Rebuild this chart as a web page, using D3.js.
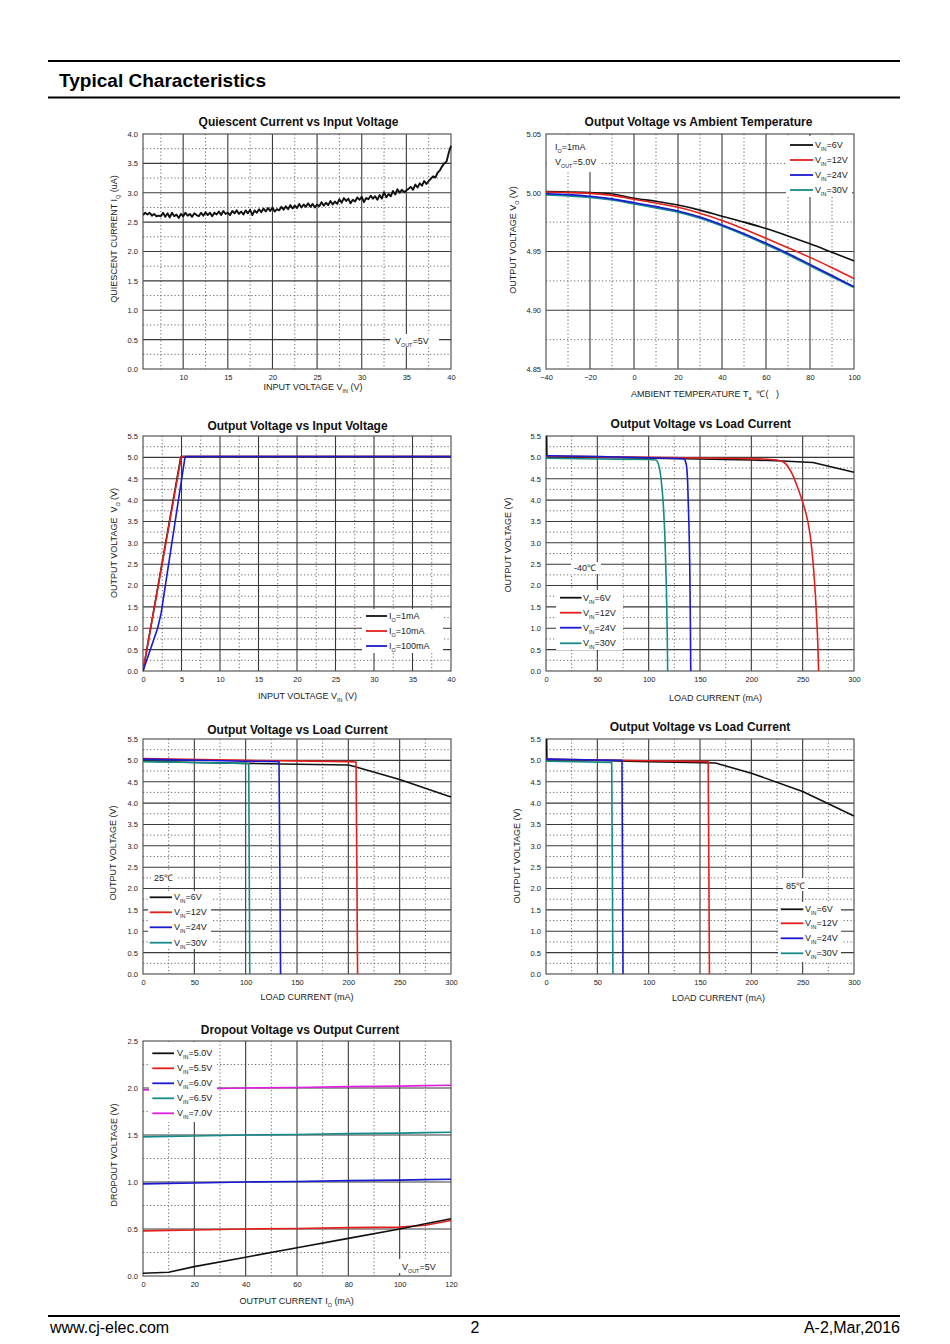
<!DOCTYPE html>
<html><head><meta charset="utf-8">
<script src="https://cdn.jsdelivr.net/npm/d3@7"></script>
<style>body{margin:0;background:#fff}text{white-space:pre}</style>
</head><body>
<svg id="page" width="950" height="1344" xmlns="http://www.w3.org/2000/svg"></svg>
<script>
// ================= DATA =================
// Chart 1: Quiescent current vs input voltage (sampled every 0.25 V from 5.5 V)
const qVinStart = 5.5, qVinStep = 0.25;
const qCurrent = [
  2.62, 2.66,                 // 5.5 - 5.75
  2.63, 2.66, 2.61, 2.64,     // 6
  2.60, 2.61, 2.60, 2.66,     // 7
  2.59, 2.65, 2.58, 2.66,     // 8
  2.60, 2.63, 2.57, 2.64,     // 9
  2.60, 2.66, 2.61, 2.64,     // 10
  2.59, 2.65, 2.62, 2.60,     // 11
  2.66, 2.61, 2.67, 2.62,     // 12
  2.66, 2.60, 2.66, 2.63,     // 13
  2.68, 2.62, 2.69, 2.64,     // 14
  2.66, 2.62, 2.69, 2.65,     // 15
  2.70, 2.64, 2.68, 2.63,     // 16
  2.70, 2.65, 2.71, 2.62,     // 17
  2.70, 2.66, 2.72, 2.67,     // 18
  2.73, 2.68, 2.74, 2.69,     // 19
  2.75, 2.68, 2.72, 2.70,     // 20
  2.76, 2.71, 2.77, 2.72,     // 21
  2.79, 2.73, 2.78, 2.74,     // 22
  2.81, 2.75, 2.80, 2.76,     // 23
  2.82, 2.76, 2.81, 2.75,     // 24
  2.80, 2.77, 2.84, 2.78,     // 25
  2.83, 2.79, 2.86, 2.80,     // 26
  2.85, 2.81, 2.89, 2.83,     // 27
  2.91, 2.86, 2.90, 2.82,     // 28
  2.88, 2.85, 2.92, 2.88,     // 29
  2.93, 2.84, 2.91, 2.89,     // 30
  2.95, 2.90, 2.94, 2.88,     // 31
  2.96, 2.90, 3.01, 2.92,     // 32
  2.98, 2.94, 3.03, 2.97,     // 33
  3.06, 3.00, 3.05, 3.01,     // 34
  3.04, 3.07, 3.10, 3.05,     // 35
  3.14, 3.09, 3.16, 3.12,     // 36
  3.20, 3.15, 3.20, 3.24,     // 37
  3.28, 3.26, 3.34, 3.38,     // 38
  3.45, 3.50, 3.53, 3.68,     // 39
  3.80                        // 40
];
const qTicksX = [10, 15, 20, 25, 30, 35, 40];
const qTicksY = [0, 0.5, 1, 1.5, 2, 2.5, 3, 3.5, 4];

// Chart 2: Output voltage vs ambient temperature
const tempC   = [-40, -30, -20, -10, 0, 10, 20, 30, 40, 50, 60, 70, 80, 90, 100];
const voT_6V  = [5.0011, 5.0007, 5.0002, 4.9990, 4.9953, 4.9928, 4.9895, 4.9852, 4.9800, 4.9750, 4.9695, 4.9632, 4.9565, 4.9493, 4.9420];
const voT_12V = [5.0006, 5.0002, 4.9995, 4.9978, 4.9944, 4.9913, 4.9876, 4.9826, 4.9763, 4.9692, 4.9613, 4.9532, 4.9450, 4.9362, 4.9270];
const voT_24V = [4.9992, 4.9984, 4.9970, 4.9948, 4.9915, 4.9882, 4.9845, 4.9793, 4.9726, 4.9652, 4.9570, 4.9483, 4.9390, 4.9295, 4.9200];
const voT_30V = [4.9983, 4.9975, 4.9962, 4.9940, 4.9907, 4.9873, 4.9836, 4.9784, 4.9718, 4.9643, 4.9560, 4.9473, 4.9380, 4.9287, 4.9195];
const tTicksX = [-40, -20, 0, 20, 40, 60, 80, 100];
const tTicksY = [4.85, 4.90, 4.95, 5.00, 5.05];

// Chart 3: Output voltage vs input voltage
const vin_1mA   = [0, 4.90, 5.05, 40];
const vo_1mA    = [0, 5.00, 5.02, 5.02];
const vin_10mA  = [0, 4.96, 5.15, 40];
const vo_10mA   = [0, 5.00, 5.02, 5.02];
const vin_100mA = [0, 1.90, 2.35, 5.45, 5.60, 40];
const vo_100mA  = [0, 1.00, 1.35, 5.00, 5.02, 5.02];
const vTicksX = [0, 5, 10, 15, 20, 25, 30, 35, 40];
const vTicksY = [0, 0.5, 1, 1.5, 2, 2.5, 3, 3.5, 4, 4.5, 5, 5.5];

// Chart 4: Output voltage vs load current, -40 C
const m40_I6  = [0.6, 0.9, 3, 50, 100, 150, 200, 225, 260, 300];
const m40_V6  = [5.5, 5.04, 5.02, 5.00, 4.98, 4.96, 4.94, 4.92, 4.88, 4.65];
const m40_I12 = [0, 100, 200, 225, 232, 240, 245, 250, 255, 258, 261.5, 263.5, 264.8, 265.5];
const m40_V12 = [5.03, 5.00, 4.97, 4.94, 4.88, 4.60, 4.30, 3.95, 3.50, 3.05, 2.10, 1.30, 0.60, 0];
const m40_I24 = [0, 50, 100, 134, 136.5, 138, 139, 140, 140.6, 141];
const m40_V24 = [5.04, 5.02, 4.99, 4.97, 4.85, 4.40, 3.60, 2.50, 1.20, 0];
const m40_I30 = [0, 50, 100, 107, 110, 112.5, 114.5, 116, 117.2, 118, 118.5];
const m40_V30 = [4.98, 4.96, 4.95, 4.94, 4.80, 4.40, 3.80, 3.00, 2.00, 1.00, 0];

// Chart 5: Output voltage vs load current, 25 C
const p25_I6  = [0, 50, 100, 150, 200, 205, 250, 300];
const p25_V6  = [4.98, 4.95, 4.93, 4.91, 4.89, 4.86, 4.55, 4.14];
const p25_I12 = [0, 100, 200, 207.5, 208.3, 209];
const p25_V12 = [5.04, 5.00, 4.97, 4.96, 2.5, 0];
const p25_I24 = [0, 100, 132.5, 133.3, 134];
const p25_V24 = [5.03, 4.98, 4.97, 2.5, 0];
const p25_I30 = [0, 50, 100, 103, 103.5, 104];
const p25_V30 = [4.97, 4.95, 4.93, 4.92, 2.5, 0];

// Chart 6: Output voltage vs load current, 85 C
const p85_I6  = [0.6, 0.9, 3, 50, 100, 165, 200, 250, 300];
const p85_V6  = [5.5, 5.04, 5.02, 5.00, 4.97, 4.94, 4.70, 4.27, 3.70];
const p85_I12 = [0, 50, 100, 158, 158.6, 159.2];
const p85_V12 = [5.03, 5.01, 4.99, 4.97, 2.5, 0];
const p85_I24 = [0, 50, 74, 74.5, 75];
const p85_V24 = [5.03, 5.01, 5.00, 2.5, 0];
const p85_I30 = [0, 30, 64, 64.6, 65.2];
const p85_V30 = [4.98, 4.97, 4.95, 2.5, 0];
const lTicksX = [0, 50, 100, 150, 200, 250, 300];

// Chart 7: Dropout voltage vs output current
const ioD   = [0, 10, 20, 40, 60, 80, 100, 110, 120];
const dv50  = [0.03, 0.04, 0.10, 0.20, 0.30, 0.40, 0.50, 0.555, 0.61];
const dv55  = [0.48, 0.485, 0.49, 0.50, 0.505, 0.515, 0.52, 0.54, 0.59];
const dv60  = [0.98, 0.985, 0.99, 1.00, 1.005, 1.015, 1.02, 1.025, 1.03];
const dv65  = [1.48, 1.485, 1.49, 1.50, 1.505, 1.515, 1.52, 1.525, 1.53];
const dv70  = [1.98, 1.985, 1.99, 2.00, 2.005, 2.015, 2.02, 2.025, 2.03];
const dTicksX = [0, 20, 40, 60, 80, 100, 120];
const dTicksY = [0, 0.5, 1, 1.5, 2, 2.5];

// ================= DRAWING =================
const COL = {black:'#111111', red:'#e3201c', blue:'#1a1ad2', teal:'#178a8a', magenta:'#e020e0'};
const FONT = "'Liberation Sans', Arial, Helvetica, sans-serif";
const svg = d3.select('#page').attr('font-family', FONT);

function rich(text, parts, size) {
  parts.forEach((p, i) => {
    const t = p[0], sub = p[1];
    const ts = text.append('tspan').text(t);
    if (sub) ts.attr('font-size', size * 0.6).attr('dy', size * 0.32);
    else if (i > 0 && parts[i - 1][1]) ts.attr('dy', -size * 0.32);
  });
}
const zip = (xs, ys) => xs.map((v, i) => [v, ys[i]]);

function gridVals(d0, d1, s) {
  const out = [], tol = s * 1e-3;
  const k0 = Math.ceil(d0 / s - 1e-6), k1 = Math.floor(d1 / s + 1e-6);
  for (let k = k0; k <= k1; k++) {
    const v = +(k * s).toFixed(6);
    if (v > d0 + tol && v < d1 - tol) out.push({v});
  }
  return out;
}

function drawChart(c) {
  const g = svg.append('g');
  const x = d3.scaleLinear().domain(c.xDomain).range([c.left, c.right]);
  const y = d3.scaleLinear().domain(c.yDomain).range([c.bottom, c.top]);

  const gx = gridVals(c.xDomain[0], c.xDomain[1], c.xStep / 2);
  const gy = gridVals(c.yDomain[0], c.yDomain[1], c.yStep / 2);
  gx.forEach(d => d.major = Math.abs(d.v / c.xStep - Math.round(d.v / c.xStep)) < 1e-4);
  gy.forEach(d => d.major = Math.abs(d.v / c.yStep - Math.round(d.v / c.yStep)) < 1e-4);

  const grid = g.append('g');
  grid.selectAll('line.mx').data(gx.filter(d => !d.major)).join('line')
    .attr('x1', d => x(d.v)).attr('x2', d => x(d.v)).attr('y1', c.top).attr('y2', c.bottom)
    .attr('stroke', '#6a6a6a').attr('stroke-width', 1).attr('stroke-dasharray', '1.2,2.3');
  grid.selectAll('line.my').data(gy.filter(d => !d.major)).join('line')
    .attr('y1', d => y(d.v)).attr('y2', d => y(d.v)).attr('x1', c.left).attr('x2', c.right)
    .attr('stroke', '#6a6a6a').attr('stroke-width', 1).attr('stroke-dasharray', '1.2,2.3');
  grid.selectAll('line.Mx').data(gx.filter(d => d.major)).join('line')
    .attr('x1', d => x(d.v)).attr('x2', d => x(d.v)).attr('y1', c.top).attr('y2', c.bottom)
    .attr('stroke', '#3a3a3a').attr('stroke-width', 1.1);
  grid.selectAll('line.My').data(gy.filter(d => d.major)).join('line')
    .attr('y1', d => y(d.v)).attr('y2', d => y(d.v)).attr('x1', c.left).attr('x2', c.right)
    .attr('stroke', '#3a3a3a').attr('stroke-width', 1.1);

  g.append('rect').attr('x', c.left).attr('y', c.top)
    .attr('width', c.right - c.left).attr('height', c.bottom - c.top)
    .attr('fill', 'none').attr('stroke', '#555').attr('stroke-width', 1.2);

  const clip = 'clip' + Math.round(c.left) + '_' + Math.round(c.top);
  g.append('clipPath').attr('id', clip).append('rect')
    .attr('x', c.left).attr('y', c.top - 1).attr('width', c.right - c.left + 1).attr('height', c.bottom - c.top + 2);
  const sg = g.append('g').attr('clip-path', `url(#${clip})`);
  c.series.forEach(s => {
    const line = d3.line().x(d => x(d[0])).y(d => y(d[1])).curve(s.curve || d3.curveLinear);
    sg.append('path').attr('d', line(s.data)).attr('fill', 'none')
      .attr('stroke', s.color).attr('stroke-width', s.width || 1.6)
      .attr('stroke-linejoin', 'round');
  });

  (c.boxes || []).forEach(b => g.append('rect').attr('x', b[0]).attr('y', b[1])
    .attr('width', b[2]).attr('height', b[3]).attr('fill', '#fff'));

  const ax = g.append('g').attr('transform', `translate(0,${c.bottom})`)
    .call(d3.axisBottom(x).tickValues(c.xTicks).tickSize(0).tickPadding(6).tickFormat(c.xFmt || d3.format('d')));
  ax.select('.domain').remove();
  ax.attr('font-size', 7.5).attr('font-family', FONT);
  ax.selectAll('text').attr('fill', '#222');
  const ay = g.append('g').attr('transform', `translate(${c.left},0)`)
    .call(d3.axisLeft(y).tickValues(c.yTicks).tickSize(0).tickPadding(5).tickFormat(c.yFmt || d3.format('.1f')));
  ay.select('.domain').remove();
  ay.attr('font-size', 7.5).attr('font-family', FONT);
  ay.selectAll('text').attr('fill', '#222');

  g.append('text').attr('x', c.titleX).attr('y', c.titleY).attr('text-anchor', 'middle')
    .attr('font-size', 12).attr('font-weight', 'bold').attr('fill', '#111').text(c.title);
  const xl = g.append('text').attr('x', c.xLabelX).attr('y', c.xLabelY).attr('text-anchor', 'middle')
    .attr('font-size', 9).attr('fill', '#222');
  rich(xl, c.xLabel, 9);
  const yl = g.append('text').attr('transform', `translate(${c.yLabelX},${c.yLabelY}) rotate(-90)`)
    .attr('text-anchor', 'middle').attr('font-size', 9).attr('fill', '#222');
  rich(yl, c.yLabel, 9);

  if (c.legend) {
    const L = c.legend;
    L.items.forEach((it, i) => {
      const yy = L.rows[i];
      g.append('line').attr('x1', L.x1).attr('x2', L.x2).attr('y1', yy).attr('y2', yy)
        .attr('stroke', it.color).attr('stroke-width', 1.8);
      const t = g.append('text').attr('x', L.tx).attr('y', yy + 3).attr('font-size', 9).attr('fill', '#222');
      rich(t, it.label, 9);
    });
  }
  (c.notes || []).forEach(n => {
    const t = g.append('text').attr('x', n.x).attr('y', n.y).attr('font-size', 9).attr('fill', '#222');
    rich(t, n.parts, 9);
  });
}

const vinLabel = v => [['V', false], ['IN', true], ['=' + v, false]];

// ---- Page header / footer ----
svg.append('line').attr('x1', 48).attr('x2', 900).attr('y1', 61).attr('y2', 61).attr('stroke', '#000').attr('stroke-width', 2);
svg.append('text').attr('x', 59).attr('y', 87).attr('font-size', 19).attr('font-weight', 'bold')
  .attr('textLength', 207).attr('lengthAdjust', 'spacingAndGlyphs').text('Typical Characteristics');
svg.append('line').attr('x1', 48).attr('x2', 900).attr('y1', 97.5).attr('y2', 97.5).attr('stroke', '#000').attr('stroke-width', 2);
svg.append('line').attr('x1', 48).attr('x2', 900).attr('y1', 1316).attr('y2', 1316).attr('stroke', '#000').attr('stroke-width', 2);
svg.append('text').attr('x', 50).attr('y', 1333).attr('font-size', 16).text('www.cj-elec.com');
svg.append('text').attr('x', 475).attr('y', 1333).attr('font-size', 16).attr('text-anchor', 'middle').text('2');
svg.append('text').attr('x', 900).attr('y', 1333).attr('font-size', 16).attr('text-anchor', 'end').text('A-2,Mar,2016');

// ---- Chart 1 ----
drawChart({
  left: 143, right: 451, top: 134, bottom: 369,
  xDomain: [5.5, 40], yDomain: [0, 4], xStep: 5, yStep: 0.5,
  xTicks: qTicksX, yTicks: qTicksY,
  title: 'Quiescent Current vs Input Voltage', titleX: 298.5, titleY: 126,
  xLabel: [['INPUT VOLTAGE V', false], ['IN', true], [' (V)', false]], xLabelX: 313, xLabelY: 390,
  yLabel: [['QUIESCENT CURRENT I', false], ['Q', true], [' (uA)', false]], yLabelX: 117, yLabelY: 239,
  series: [{data: qCurrent.map((v, i) => [qVinStart + i * qVinStep, v]), color: COL.black, width: 1.9}],
  boxes: [[390, 334, 49, 13]],
  notes: [{x: 395, y: 344, parts: [['V', false], ['OUT', true], ['=5V', false]]}]
});

// ---- Chart 2 ----
drawChart({
  left: 546, right: 854, top: 134, bottom: 369,
  xDomain: [-40, 100], yDomain: [4.85, 5.05], xStep: 20, yStep: 0.05,
  xTicks: tTicksX, yTicks: tTicksY, yFmt: d3.format('.2f'),
  title: 'Output Voltage vs Ambient Temperature', titleX: 698.5, titleY: 126,
  xLabel: [['AMBIENT TEMPERATURE T', false], ['a', true], ['  ℃(   )', false]], xLabelX: 705, xLabelY: 397,
  yLabel: [['OUTPUT VOLTAGE V', false], ['O', true], [' (V)', false]], yLabelX: 516, yLabelY: 240,
  series: [
    {data: zip(tempC, voT_6V), color: COL.black, curve: d3.curveMonotoneX},
    {data: zip(tempC, voT_12V), color: COL.red, curve: d3.curveMonotoneX},
    {data: zip(tempC, voT_30V), color: COL.teal, curve: d3.curveMonotoneX, width: 2},
    {data: zip(tempC, voT_24V), color: COL.blue, curve: d3.curveMonotoneX}
  ],
  boxes: [[547, 135, 55, 37], [786, 136, 66, 61]],
  notes: [
    {x: 555, y: 150, parts: [['I', false], ['O', true], ['=1mA', false]]},
    {x: 555, y: 165, parts: [['V', false], ['OUT', true], ['=5.0V', false]]}
  ],
  legend: {x1: 790, x2: 813, tx: 815, rows: [145, 160, 175, 190],
    items: [{color: COL.black, label: vinLabel('6V')}, {color: COL.red, label: vinLabel('12V')},
            {color: COL.blue, label: vinLabel('24V')}, {color: COL.teal, label: vinLabel('30V')}]}
});

// ---- Chart 3 ----
drawChart({
  left: 143, right: 451, top: 436, bottom: 671,
  xDomain: [0, 40], yDomain: [0, 5.5], xStep: 5, yStep: 0.5,
  xTicks: vTicksX, yTicks: vTicksY,
  title: 'Output Voltage vs Input Voltage', titleX: 297.5, titleY: 430,
  xLabel: [['INPUT VOLTAGE V', false], ['IN', true], [' (V)', false]], xLabelX: 307.5, xLabelY: 699,
  yLabel: [['OUTPUT VOLTAGE  V', false], ['O', true], [' (V)', false]], yLabelX: 117, yLabelY: 543,
  series: [
    {data: zip(vin_1mA, vo_1mA), color: COL.black},
    {data: zip(vin_10mA, vo_10mA), color: COL.red},
    {data: zip(vin_100mA, vo_100mA), color: COL.blue}
  ],
  boxes: [[362, 609, 81, 44]],
  legend: {x1: 366, x2: 387, tx: 389, rows: [616, 631, 646],
    items: [{color: COL.black, label: [['I', false], ['O', true], ['=1mA', false]]},
            {color: COL.red, label: [['I', false], ['O', true], ['=10mA', false]]},
            {color: COL.blue, label: [['I', false], ['O', true], ['=100mA', false]]}]}
});

// ---- Chart 4 ----
drawChart({
  left: 546, right: 854, top: 436, bottom: 671,
  xDomain: [0, 300], yDomain: [0, 5.5], xStep: 50, yStep: 0.5,
  xTicks: lTicksX, yTicks: vTicksY,
  title: 'Output Voltage vs Load Current', titleX: 700.8, titleY: 428,
  xLabel: [['LOAD CURRENT (mA)', false]], xLabelX: 715.5, xLabelY: 701,
  yLabel: [['OUTPUT VOLTAGE (V)', false]], yLabelX: 511, yLabelY: 545,
  series: [
    {data: zip(m40_I6, m40_V6), color: COL.black},
    {data: zip(m40_I12, m40_V12), color: COL.red, curve: d3.curveMonotoneX},
    {data: zip(m40_I24, m40_V24), color: COL.blue, curve: d3.curveMonotoneX},
    {data: zip(m40_I30, m40_V30), color: COL.teal, curve: d3.curveMonotoneX}
  ],
  boxes: [[571, 562, 30, 12], [556, 590, 67, 60]],
  notes: [{x: 574, y: 571, parts: [['-40℃', false]]}],
  legend: {x1: 560, x2: 581.5, tx: 583, rows: [597.7, 612.7, 627.7, 643.3],
    items: [{color: COL.black, label: vinLabel('6V')}, {color: COL.red, label: vinLabel('12V')},
            {color: COL.blue, label: vinLabel('24V')}, {color: COL.teal, label: vinLabel('30V')}]}
});

// ---- Chart 5 ----
drawChart({
  left: 143, right: 451, top: 739, bottom: 974,
  xDomain: [0, 300], yDomain: [0, 5.5], xStep: 50, yStep: 0.5,
  xTicks: lTicksX, yTicks: vTicksY,
  title: 'Output Voltage vs Load Current', titleX: 297.5, titleY: 734,
  xLabel: [['LOAD CURRENT (mA)', false]], xLabelX: 307, xLabelY: 1000,
  yLabel: [['OUTPUT VOLTAGE (V)', false]], yLabelX: 116, yLabelY: 853,
  series: [
    {data: zip(p25_I6, p25_V6), color: COL.black},
    {data: zip(p25_I12, p25_V12), color: COL.red},
    {data: zip(p25_I24, p25_V24), color: COL.blue},
    {data: zip(p25_I30, p25_V30), color: COL.teal}
  ],
  boxes: [[151, 872, 25, 12], [148, 891, 63, 58]],
  notes: [{x: 154, y: 881, parts: [['25℃', false]]}],
  legend: {x1: 149.7, x2: 172, tx: 174, rows: [897.3, 912.3, 927.3, 942.7],
    items: [{color: COL.black, label: vinLabel('6V')}, {color: COL.red, label: vinLabel('12V')},
            {color: COL.blue, label: vinLabel('24V')}, {color: COL.teal, label: vinLabel('30V')}]}
});

// ---- Chart 6 ----
drawChart({
  left: 546, right: 854, top: 739, bottom: 974,
  xDomain: [0, 300], yDomain: [0, 5.5], xStep: 50, yStep: 0.5,
  xTicks: lTicksX, yTicks: vTicksY,
  title: 'Output Voltage vs Load Current', titleX: 700, titleY: 731,
  xLabel: [['LOAD CURRENT (mA)', false]], xLabelX: 718.5, xLabelY: 1001,
  yLabel: [['OUTPUT VOLTAGE (V)', false]], yLabelX: 520, yLabelY: 856,
  series: [
    {data: zip(p85_I6, p85_V6), color: COL.black},
    {data: zip(p85_I12, p85_V12), color: COL.red},
    {data: zip(p85_I24, p85_V24), color: COL.blue},
    {data: zip(p85_I30, p85_V30), color: COL.teal}
  ],
  boxes: [[783, 878, 25, 13], [778, 902, 63, 60]],
  notes: [{x: 786, y: 889, parts: [['85℃', false]]}],
  legend: {x1: 780.7, x2: 803.3, tx: 805, rows: [909.3, 923.3, 938.3, 953.3],
    items: [{color: COL.black, label: vinLabel('6V')}, {color: COL.red, label: vinLabel('12V')},
            {color: COL.blue, label: vinLabel('24V')}, {color: COL.teal, label: vinLabel('30V')}]}
});

// ---- Chart 7 ----
drawChart({
  left: 143, right: 451, top: 1041, bottom: 1276,
  xDomain: [0, 120], yDomain: [0, 2.5], xStep: 20, yStep: 0.5,
  xTicks: dTicksX, yTicks: dTicksY,
  title: 'Dropout Voltage vs Output Current', titleX: 300, titleY: 1034,
  xLabel: [['OUTPUT CURRENT I', false], ['O', true], [' (mA)', false]], xLabelX: 296.7, xLabelY: 1304,
  yLabel: [['DROPOUT VOLTAGE (V)', false]], yLabelX: 117, yLabelY: 1155,
  series: [
    {data: zip(ioD, dv70), color: COL.magenta},
    {data: zip(ioD, dv65), color: COL.teal},
    {data: zip(ioD, dv60), color: COL.blue},
    {data: zip(ioD, dv55), color: COL.red},
    {data: zip(ioD, dv50), color: COL.black}
  ],
  boxes: [[149, 1042, 68, 80], [398, 1259, 45, 14]],
  notes: [{x: 402, y: 1270, parts: [['V', false], ['OUT', true], ['=5V', false]]}],
  legend: {x1: 152.3, x2: 174, tx: 177, rows: [1053.3, 1068.3, 1083.3, 1098.3, 1113.3],
    items: [{color: COL.black, label: vinLabel('5.0V')}, {color: COL.red, label: vinLabel('5.5V')},
            {color: COL.blue, label: vinLabel('6.0V')}, {color: COL.teal, label: vinLabel('6.5V')},
            {color: COL.magenta, label: vinLabel('7.0V')}]}
});
</script>
</body></html>
